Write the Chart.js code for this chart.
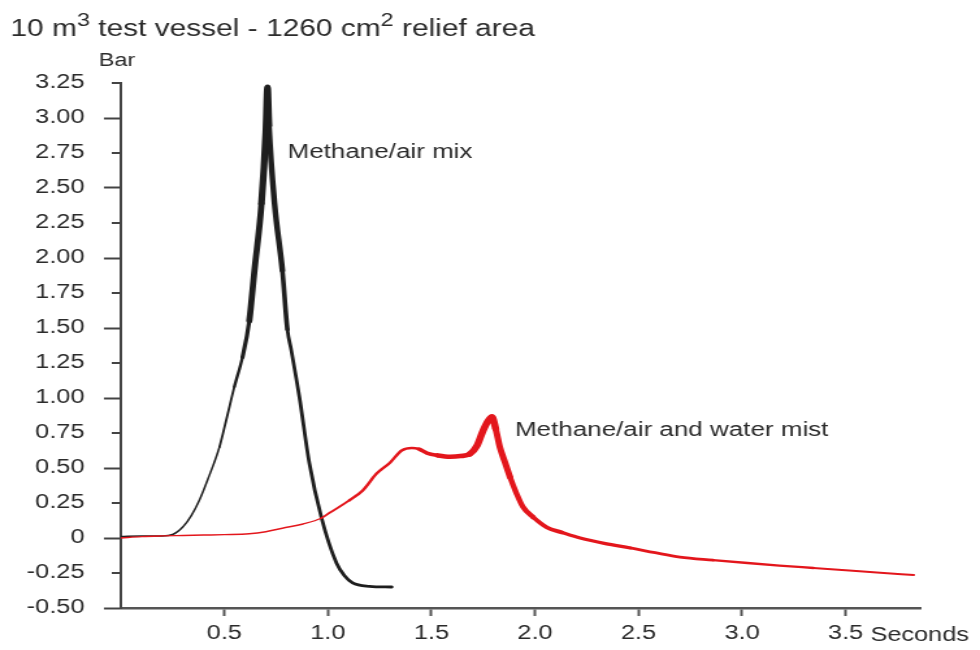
<!DOCTYPE html>
<html>
<head>
<meta charset="utf-8">
<script src="https://cdn.jsdelivr.net/npm/chart.js@4.4.1/dist/chart.umd.min.js"></script>
<style>
  html, body { margin: 0; padding: 0; background: #ffffff; overflow: hidden; }
  #wrap { width: 754px; height: 650px; transform: scaleX(1.2997); transform-origin: 0 0; }
  canvas { display: block; }
</style>
</head>
<body>
<div id="wrap"><canvas id="c" width="754" height="650" style="width:754px;height:650px"></canvas></div>
<script>
// ---------- chart text ----------
const titleParts = [["10 m", false], ["3", true], [" test vessel - 1260 cm", false], ["2", true], [" relief area", false]];
const yAxisTitle = "Bar";
const xAxisTitle = "Seconds";
const seriesNames = ["Methane/air mix", "Methane/air and water mist"];

// ---------- tick values ----------
const xTickValues = [0.5, 1.0, 1.5, 2.0, 2.5, 3.0, 3.5];
const yTickValues = [-0.5, -0.25, 0, 0.25, 0.5, 0.75, 1.0, 1.25, 1.5, 1.75, 2.0, 2.25, 2.5, 2.75, 3.0, 3.25];

// ---------- series: Methane/air mix (black) ----------
const mixTime     = [0, 0.10, 0.20, 0.25, 0.30, 0.34, 0.379, 0.42, 0.476, 0.51, 0.548, 0.587, 0.62, 0.645, 0.679, 0.70, 0.708, 0.715, 0.742, 0.78, 0.804, 0.823, 0.862, 0.91, 0.969, 1.041, 1.08, 1.119, 1.20, 1.308];
const mixPressure = [0.01, 0.015, 0.015, 0.025, 0.08, 0.16, 0.27, 0.42, 0.65, 0.85, 1.08, 1.29, 1.55, 1.91, 2.39, 2.90, 3.22, 2.95, 2.39, 1.91, 1.49, 1.34, 1.007, 0.536, 0.143, -0.179, -0.27, -0.321, -0.345, -0.35];

// ---------- series: Methane/air and water mist (red) ----------
const mistTime     = [0, 0.10, 0.20, 0.30, 0.40, 0.50, 0.62, 0.70, 0.78, 0.88, 0.969, 1.008, 1.104, 1.168, 1.235, 1.298, 1.356, 1.405, 1.44, 1.478, 1.53, 1.59, 1.64, 1.685, 1.72, 1.75, 1.775, 1.792, 1.81, 1.83, 1.855, 1.879, 1.91, 1.942, 1.99, 2.058, 2.13, 2.218, 2.34, 2.46, 2.58, 2.70, 2.86, 3.026, 3.18, 3.345, 3.50, 3.65, 3.829];
const mistPressure = [0.0, 0.01, 0.015, 0.018, 0.021, 0.024, 0.03, 0.045, 0.07, 0.10, 0.143, 0.18, 0.27, 0.34, 0.46, 0.536, 0.625, 0.643, 0.635, 0.607, 0.59, 0.58, 0.585, 0.60, 0.66, 0.77, 0.84, 0.865, 0.78, 0.65, 0.54, 0.436, 0.32, 0.221, 0.15, 0.075, 0.04, 0.0, -0.04, -0.071, -0.105, -0.136, -0.158, -0.179, -0.197, -0.214, -0.23, -0.247, -0.264];

// ---------- styling (line thickness zones: [from seconds, width]) ----------
const mixWidthZones  = [[0, 1.5], [0.45, 1.8], [0.52, 2.4], [0.56, 3.2], [0.59, 4.0], [0.62, 4.8], [0.66, 5.2], [0.71, 4.4], [0.75, 3.6], [0.80, 2.8], [1.0, 2.8]];
const mistWidthZones = [[0, 1.4], [0.9, 1.9], [1.1, 2.5], [1.44, 3.6], [1.52, 4.6], [1.68, 5.6], [1.80, 5.0], [1.87, 4.4], [1.95, 3.8], [2.1, 3.2], [2.4, 2.8], [2.8, 2.4], [3.3, 2.0]];
const FONT = '"Liberation Sans", Arial, Helvetica, sans-serif';
const TEXT_COLOR = '#2b2b2b';

function widthAt(zones, t) {
  let w = zones[0][1];
  for (const z of zones) { if (t >= z[0]) w = z[1]; }
  return w;
}
function toPoints(xs, ys) { return xs.map((x, i) => ({ x: x, y: ys[i] })); }
function isMajor(v) { return Math.abs(v * 2 - Math.round(v * 2)) < 1e-6; }

// label anchors in data units (seconds, bar)
const labelAnchors = [[0.805, 2.714], [1.903, 0.729]];

const overlay = {
  id: 'overlay',
  afterDraw(chart) {
    const { ctx } = chart;
    const xs = chart.scales.x, ys = chart.scales.y;
    ctx.save();
    // minor y ticks
    ctx.strokeStyle = '#444';
    ctx.lineWidth = 2;
    yTickValues.forEach(v => {
      if (!isMajor(v)) {
        const py = Math.round(ys.getPixelForValue(v));
        ctx.beginPath();
        ctx.moveTo(ys.right - 7, py);
        ctx.lineTo(ys.right, py);
        ctx.stroke();
      }
    });
    ctx.fillStyle = TEXT_COLOR;
    ctx.textBaseline = 'alphabetic';
    // title with superscripts
    let cx = 8;
    titleParts.forEach(([t, sup]) => {
      ctx.font = (sup ? '18px ' : '23px ') + FONT;
      ctx.textAlign = 'left';
      ctx.fillText(t, cx, sup ? 26 : 36);
      cx += ctx.measureText(t).width;
    });
    // y axis title
    ctx.font = '18px ' + FONT;
    ctx.textAlign = 'center';
    ctx.fillText(yAxisTitle, ys.right - 3, ys.top - 17);
    // x axis title
    ctx.font = '19.5px ' + FONT;
    ctx.textAlign = 'left';
    ctx.fillText(xAxisTitle, xs.getPixelForValue(3.5) + 19, xs.top + 33);
    // series labels
    ctx.font = '20px ' + FONT;
    seriesNames.forEach((name, i) => {
      ctx.fillText(name, xs.getPixelForValue(labelAnchors[i][0]), ys.getPixelForValue(labelAnchors[i][1]));
    });
    ctx.restore();
  }
};

new Chart(document.getElementById('c'), {
  type: 'line',
  data: {
    datasets: [
      {
        label: seriesNames[1],
        data: toPoints(mistTime, mistPressure),
        borderColor: '#e3161c',
        borderWidth: 1.4,
        borderCapStyle: 'round',
        borderJoinStyle: 'round',
        pointRadius: 0,
        fill: false,
        cubicInterpolationMode: 'monotone',
        segment: { borderWidth: c => widthAt(mistWidthZones, c.p0.parsed.x) }
      },
      {
        label: seriesNames[0],
        data: toPoints(mixTime, mixPressure),
        borderColor: '#1e1e1e',
        borderWidth: 1.5,
        borderCapStyle: 'round',
        borderJoinStyle: 'round',
        pointRadius: 0,
        fill: false,
        cubicInterpolationMode: 'monotone',
        segment: { borderWidth: c => widthAt(mixWidthZones, c.p0.parsed.x) }
      }
    ]
  },
  options: {
    responsive: false,
    animation: false,
    devicePixelRatio: 1,
    layout: { padding: { top: 83, right: 46, left: 0, bottom: 0 } },
    plugins: { legend: { display: false }, tooltip: { enabled: false }, title: { display: false } },
    scales: {
      x: {
        type: 'linear',
        position: 'bottom',
        min: 0,
        max: 3.86,
        afterBuildTicks: s => { s.ticks = xTickValues.map(v => ({ value: v })); },
        afterFit: s => { s.height = 42; },
        ticks: {
          autoSkip: false,
          maxRotation: 0,
          padding: 6,
          color: TEXT_COLOR,
          font: { family: FONT, size: 19.5 },
          callback: v => Number(v).toFixed(1)
        },
        grid: { display: true, drawOnChartArea: false, drawTicks: true, tickLength: 8, tickWidth: 2, tickColor: '#555' },
        border: { display: true, color: '#555', width: 2.5 }
      },
      y: {
        type: 'linear',
        position: 'left',
        min: -0.5,
        max: 3.25,
        afterBuildTicks: s => { s.ticks = yTickValues.map(v => ({ value: v })); },
        afterFit: s => { s.width = 93; },
        ticks: {
          autoSkip: false,
          padding: 15,
          color: TEXT_COLOR,
          font: { family: FONT, size: 19.5 },
          callback: v => (Math.abs(v) < 1e-9 ? '0' : Number(v).toFixed(2))
        },
        grid: {
          display: true, drawOnChartArea: false, drawTicks: true, tickLength: 13, tickWidth: 2,
          tickColor: c => (c.tick && isMajor(c.tick.value) ? '#444' : 'rgba(0,0,0,0)')
        },
        border: { display: true, color: '#444', width: 2 }
      }
    }
  },
  plugins: [overlay]
});
</script>
</body>
</html>
